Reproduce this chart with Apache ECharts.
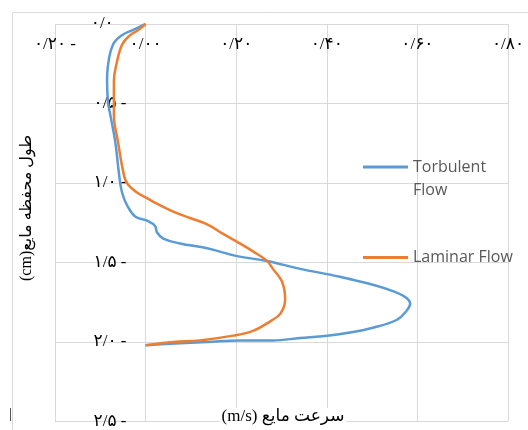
<!DOCTYPE html>
<html>
<head>
<meta charset="utf-8">
<script src="https://cdn.jsdelivr.net/npm/echarts@6/dist/echarts.min.js"></script>
<style>
  html, body { margin: 0; padding: 0; background: #fff; }
  #chart { width: 528px; height: 430px; }
</style>
</head>
<body>
<div id="chart"></div>
<script>
// ---- data ----
var turbulentVelocity = [0.000, -0.030, -0.052, -0.072, -0.083, -0.085, -0.083, -0.078, -0.067, -0.058, -0.052, -0.041, -0.023, 0.006, 0.021, 0.025, 0.039, 0.076, 0.136, 0.202, 0.268, 0.341, 0.429, 0.546, 0.584, 0.577, 0.555, 0.502, 0.451, 0.401, 0.341, 0.281, 0.209, 0.136, 0.065, 0.000];
var turbulentDepth    = [0.00, 0.04, 0.07, 0.13, 0.26, 0.36, 0.49, 0.57, 0.74, 0.96, 1.06, 1.14, 1.21, 1.24, 1.27, 1.31, 1.35, 1.38, 1.41, 1.46, 1.49, 1.54, 1.59, 1.68, 1.76, 1.80, 1.86, 1.91, 1.94, 1.96, 1.975, 1.99, 1.99, 2.00, 2.01, 2.02];

var laminarVelocity = [0.000, -0.017, -0.034, -0.052, -0.065, -0.070, -0.070, -0.070, -0.061, -0.047, -0.039, -0.019, 0.006, 0.025, 0.061, 0.098, 0.136, 0.171, 0.202, 0.237, 0.268, 0.281, 0.301, 0.308, 0.298, 0.275, 0.237, 0.193, 0.120, 0.061, 0.000];
var laminarDepth    = [0.00, 0.04, 0.07, 0.13, 0.26, 0.36, 0.49, 0.57, 0.74, 0.96, 1.01, 1.06, 1.10, 1.13, 1.18, 1.22, 1.26, 1.32, 1.37, 1.43, 1.49, 1.54, 1.62, 1.73, 1.82, 1.87, 1.93, 1.96, 1.99, 2.00, 2.02];

var xTickValues = [-0.2, 0, 0.2, 0.4, 0.6, 0.8];
var xTickLabels = ['۰/۲۰ -', '۰/۰۰', '۰/۲۰', '۰/۴۰', '۰/۶۰', '۰/۸۰'];
var yTickValues = [0, 0.5, 1.0, 1.5, 2.0, 2.5];
var yTickLabels = ['۰/۰   ', '۰/۵ -', '۱/۰ -', '۱/۵ -', '۲/۰ -', '۲/۵ -'];

var seriesNames = ['Torbulent Flow', 'Laminar Flow'];
var legendTexts = ['\u00A0\nTorbulent\nFlow', 'Laminar Flow'];
var xTitle = 'سرعت مایع (m/s)';
var yTitle = 'طول محفظه مایع(cm)';

function zip(a, b) { return a.map(function (v, i) { return [v, b[i]]; }); }
function lookup(values, labels, v) {
  for (var i = 0; i < values.length; i++) if (Math.abs(values[i] - v) < 1e-6) return labels[i];
  return '';
}

var chart = echarts.init(document.getElementById('chart'), null, { renderer: 'canvas' });
var gridColor = '#d9d9d9';
var labelFont = '"Liberation Serif", "DejaVu Serif", "DejaVu Sans", serif';
var legendFont = '"Open Sans", "Liberation Sans", sans-serif';
var option = {
  animation: false,
  backgroundColor: '#ffffff',
  color: ['#5B9BD5', '#ED7D31'],
  grid: { left: 55, right: 20, top: 24, bottom: 6, containLabel: false },
  xAxis: {
    type: 'value', position: 'top',
    min: -0.2, max: 0.8, interval: 0.2,
    axisLine: { show: false, onZero: false },
    axisTick: { show: false },
    splitLine: { show: true, lineStyle: { color: gridColor, width: 1 } },
    axisLabel: {
      inside: true, margin: 21, verticalAlign: 'middle',
      color: '#000', fontSize: 17, fontFamily: labelFont,
      showMinLabel: true, showMaxLabel: true,
      formatter: function (v) { return lookup(xTickValues, xTickLabels, v); }
    }
  },
  yAxis: {
    type: 'value', inverse: true,
    min: 0, max: 2.5, interval: 0.5,
    offset: -90.5,
    axisLine: { show: true, onZero: false, lineStyle: { color: gridColor, width: 1 } },
    axisTick: { show: false },
    splitLine: { show: true, lineStyle: { color: gridColor, width: 1 } },
    axisLabel: {
      margin: 19, color: '#000', fontSize: 17, fontFamily: labelFont,
      showMinLabel: true, showMaxLabel: true,
      formatter: function (v) { return lookup(yTickValues, yTickLabels, v); }
    }
  },
  legend: [
    {
      data: [seriesNames[0]], left: 363, top: 132.5, padding: 0,
      icon: 'rect', itemWidth: 45, itemHeight: 3,
      formatter: function () { return legendTexts[0]; },
      textStyle: { color: '#595959', fontSize: 16, lineHeight: 23, fontFamily: legendFont }
    },
    {
      data: [seriesNames[1]], left: 363, top: 246, padding: 0,
      icon: 'rect', itemWidth: 45, itemHeight: 3,
      formatter: function () { return legendTexts[1]; },
      textStyle: { color: '#595959', fontSize: 16, lineHeight: 23, fontFamily: legendFont }
    }
  ],
  series: [
    {
      name: seriesNames[0], type: 'line', symbol: 'none', smooth: 0.4,
      lineStyle: { width: 2.5, color: '#5B9BD5' },
      itemStyle: { color: '#5B9BD5' },
      data: zip(turbulentVelocity, turbulentDepth), z: 3
    },
    {
      name: seriesNames[1], type: 'line', symbol: 'none', smooth: 0.4,
      lineStyle: { width: 2.5, color: '#ED7D31' },
      itemStyle: { color: '#ED7D31' },
      data: zip(laminarVelocity, laminarDepth), z: 4
    }
  ],
  graphic: [
    {
      type: 'rect', z: -10, silent: true,
      shape: { x: 12.5, y: 12.5, width: 700, height: 700 },
      style: { fill: 'none', stroke: gridColor, lineWidth: 1 }
    },
    {
      type: 'line', z: -9, silent: true,
      shape: { x1: 10.5, y1: 408, x2: 10.5, y2: 421 },
      style: { stroke: '#555', lineWidth: 1 }
    },
    {
      type: 'text', x: 283, y: 417, z: 10,
      style: {
        text: '\u202B' + xTitle + '\u202C',
        font: '17px "Liberation Serif", "DejaVu Sans", serif',
        fill: '#000', align: 'center', verticalAlign: 'middle',
        backgroundColor: '#fff', padding: [1, 2, 0, 2]
      }
    },
    {
      type: 'text', x: 27, y: 208, rotation: Math.PI / 2, z: 10,
      style: {
        text: '\u202B' + yTitle + '\u202C',
        font: '16px "Liberation Serif", "DejaVu Sans", serif',
        fill: '#000', align: 'center', verticalAlign: 'middle'
      }
    }
  ]
};
chart.setOption(option);
</script>
</body>
</html>
